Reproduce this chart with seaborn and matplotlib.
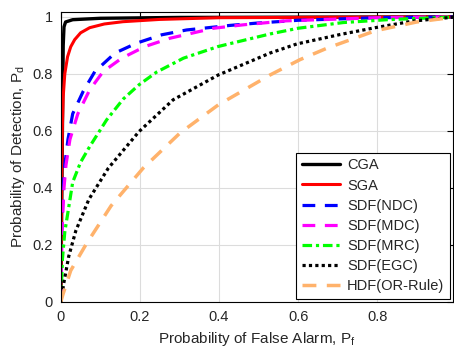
import matplotlib
matplotlib.use("Agg")
import matplotlib.pyplot as plt
import pandas as pd
import seaborn as sns

# ROC points (Pf, Pd)
cga_pf = [0.0, 0.004, 0.006, 0.008, 0.012, 0.03, 0.1, 0.3, 1.0]
cga_pd = [0.0, 0.6, 0.9, 0.965, 0.982, 0.99, 0.995, 0.998, 1.0]

sga_pf = [0.0, 0.002, 0.004, 0.006, 0.01, 0.017, 0.025, 0.035, 0.05, 0.073, 0.11, 0.157,
          0.25, 0.4, 1.0]
sga_pd = [0.0, 0.4, 0.62, 0.72, 0.8, 0.86, 0.895, 0.92, 0.944, 0.962, 0.975, 0.983,
          0.991, 0.997, 1.0]

ndc_pf = [0.0, 0.002, 0.006, 0.01, 0.018, 0.03, 0.057, 0.086, 0.137, 0.192, 0.255, 0.318,
          0.428, 0.495, 0.6, 0.8, 1.0]
ndc_pd = [0.0, 0.25, 0.4, 0.48, 0.57, 0.66, 0.74, 0.808, 0.873, 0.908, 0.937, 0.954,
          0.97, 0.978, 0.988, 0.997, 1.0]

mdc_pf = [0.0, 0.003, 0.008, 0.013, 0.023, 0.043, 0.073, 0.107, 0.154, 0.213, 0.276, 0.386,
          0.461, 0.57, 0.8, 1.0]
mdc_pd = [0.0, 0.25, 0.4, 0.48, 0.57, 0.66, 0.744, 0.808, 0.855, 0.896, 0.925, 0.96,
          0.972, 0.986, 0.997, 1.0]

mrc_pf = [0.0, 0.004, 0.01, 0.03, 0.05, 0.073, 0.116, 0.158, 0.198, 0.242, 0.31, 0.398,
          0.529, 0.6, 0.714, 0.825, 1.0]
mrc_pd = [0.0, 0.15, 0.245, 0.42, 0.49, 0.545, 0.639, 0.712, 0.762, 0.806, 0.855, 0.896,
          0.94, 0.96, 0.98, 0.99, 1.0]

egc_pf = [0.0, 0.008, 0.02, 0.038, 0.071, 0.12, 0.198, 0.284, 0.398, 0.529, 0.597, 0.706,
          0.795, 0.89, 1.0]
egc_pd = [0.0, 0.07, 0.16, 0.25, 0.36, 0.469, 0.598, 0.709, 0.796, 0.873, 0.905, 0.938,
          0.962, 0.985, 1.0]

hdf_pf = [0.0, 0.005, 0.025, 0.063, 0.127, 0.208, 0.301, 0.398, 0.529, 0.605, 0.673, 0.795,
          0.9, 1.0]
hdf_pd = [0.0, 0.025, 0.11, 0.2, 0.337, 0.469, 0.592, 0.691, 0.796, 0.85, 0.89, 0.951,
          0.982, 1.0]

x_ticks = [0, 0.2, 0.4, 0.6, 0.8]
x_tick_labels = ['0', '0.2', '0.4', '0.6', '0.8']
y_ticks = [0, 0.2, 0.4, 0.6, 0.8, 1.0]
y_tick_labels = ['0', '0.2', '0.4', '0.6', '0.8', '1']


def main():
    sns.set_theme(style="whitegrid")
    plt.rcParams['font.family'] = ['Liberation Sans', 'DejaVu Sans']
    plt.rcParams['mathtext.fontset'] = 'custom'
    plt.rcParams['mathtext.rm'] = 'Liberation Sans'

    series = [
        ('CGA', cga_pf, cga_pd, 'black', '-', 2.4),
        ('SGA', sga_pf, sga_pd, '#ff0000', '-', 2.2),
        ('SDF(NDC)', ndc_pf, ndc_pd, '#0000ff', (0, (4, 3)), 2.3),
        ('SDF(MDC)', mdc_pf, mdc_pd, '#ff00ff', (0, (4, 3)), 2.3),
        ('SDF(MRC)', mrc_pf, mrc_pd, '#00ff00', (0, (3, 1.2, 1, 1.2)), 2.3),
        ('SDF(EGC)', egc_pf, egc_pd, 'black', (0, (1, 1)), 2.3),
        ('HDF(OR-Rule)', hdf_pf, hdf_pd, '#ffb26b', (0, (4, 3)), 2.5),
    ]

    fig = plt.figure(figsize=(4.54, 3.49), dpi=100)
    ax = fig.add_axes([0.134, 0.135, 0.864, 0.831])

    for name, pf, pd_, color, ls, lw in series:
        df = pd.DataFrame({'Pf': pf, 'Pd': pd_})
        sns.lineplot(data=df, x='Pf', y='Pd', ax=ax, color=color, linestyle=ls,
                     linewidth=lw, label=name, sort=False, errorbar=None)

    ax.set_xlim(0, 0.992)
    ax.set_ylim(0, 1.0175)
    ax.set_xticks(x_ticks)
    ax.set_xticklabels(x_tick_labels)
    ax.set_yticks(y_ticks)
    ax.set_yticklabels(y_tick_labels)
    ax.tick_params(direction='in', length=4, width=0.8, colors='black', labelsize=10.5,
                   top=True, right=True, pad=6, labelcolor='#262626')
    ax.grid(True, color='#dcdcdc', linewidth=0.8)
    ax.set_facecolor('white')
    for spine in ax.spines.values():
        spine.set_edgecolor('black')
        spine.set_linewidth(0.8)

    ax.set_xlabel('Probability of False Alarm, P$_\\mathrm{f}$', fontsize=11, color='#262626', labelpad=4)
    ax.set_ylabel('Probability of Detection, P$_\\mathrm{d}$', fontsize=11, color='#262626', labelpad=4)

    leg = ax.legend(loc='lower right', fontsize=10.5, frameon=True, fancybox=False,
                    edgecolor='black', framealpha=1, handlelength=2.6, labelspacing=0.42,
                    borderaxespad=0.2, borderpad=0.4, handletextpad=0.5)
    leg.get_frame().set_linewidth(0.8)

    fig.savefig('out.png', dpi=100)
    plt.close(fig)


if __name__ == '__main__':
    main()
